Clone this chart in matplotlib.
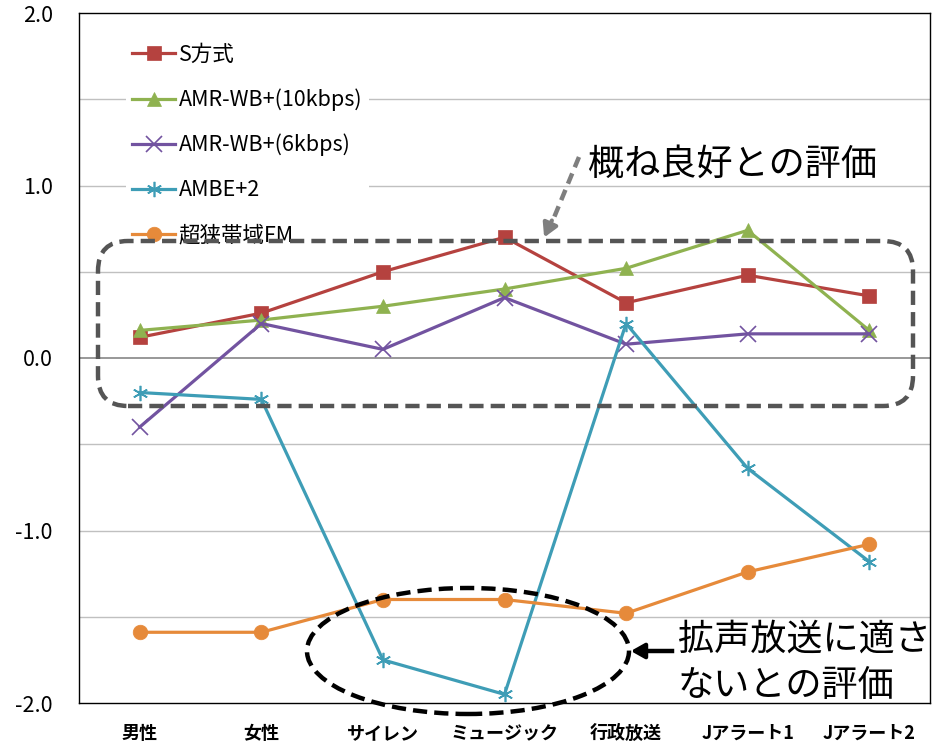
import matplotlib
matplotlib.use("Agg")
import matplotlib.pyplot as plt
from matplotlib.patches import FancyBboxPatch, Ellipse
from matplotlib.transforms import Affine2D

plt.rcParams['font.family'] = ['Noto Sans CJK JP', 'DejaVu Sans']

# データ
categories = ['男性', '女性', 'サイレン', 'ミュージック', '行政放送', 'Jアラート1', 'Jアラート2']
s_method = [0.12, 0.26, 0.50, 0.70, 0.32, 0.48, 0.36]
amr_10k = [0.16, 0.22, 0.30, 0.40, 0.52, 0.74, 0.16]
amr_6k = [-0.40, 0.20, 0.05, 0.35, 0.08, 0.14, 0.14]
ambe2 = [-0.20, -0.24, -1.75, -1.95, 0.20, -0.64, -1.18]
fm_narrow = [-1.59, -1.59, -1.40, -1.40, -1.48, -1.24, -1.08]

series = [
    ('S方式', s_method, '#B5423F', 's'),
    ('AMR-WB+(10kbps)', amr_10k, '#8FB250', '^'),
    ('AMR-WB+(6kbps)', amr_6k, '#7253A0', 'x'),
    ('AMBE+2', ambe2, '#3E9DB6', (6, 2, 0)),
    ('超狭帯域FM', fm_narrow, '#E68A3A', 'o'),
]

W, H = 942, 743
fig = plt.figure(figsize=(W / 100, H / 100), dpi=100)
ax = fig.add_axes([79 / W, 40 / H, 851 / W, 690 / H])

x = range(len(categories))
for name, vals, col, mk in series:
    filled = mk in ('s', 'o', '^')
    ax.plot(x, vals, color=col, lw=2.3, marker=mk, markersize=10.5 if filled else 11,
            markeredgewidth=0.5 if filled else 1.2,
            markeredgecolor=col, label=name, zorder=3)

ax.set_xlim(-0.5, len(categories) - 0.5)
ax.set_ylim(-2.0, 2.0)
ax.set_yticks([-2.0, -1.0, 0.0, 1.0, 2.0])
ax.set_yticklabels(['-2.0', '-1.0', '0.0', '1.0', '2.0'], fontsize=15.5)
ax.set_xticks(list(x))
ax.set_xticklabels(categories, fontsize=13, fontweight='bold')
ax.tick_params(length=0, pad=15)
ax.tick_params(axis='y', pad=19)
for yv in [-1.5, -1.0, -0.5, 0.5, 1.0, 1.5]:
    ax.axhline(yv, color='#C0C0C0', lw=1, zorder=1)
ax.axhline(0.0, color='#868686', lw=1.2, zorder=1)
for s in ax.spines.values():
    s.set_color('black')
    s.set_linewidth(1)

leg = ax.legend(loc='upper left', bbox_to_anchor=(0.055, 0.965), fontsize=15.5,
                frameon=True, facecolor='white', edgecolor='none', framealpha=1,
                labelspacing=1.06, handlelength=2.0, handletextpad=0.15,
                borderpad=0.3, borderaxespad=0)
leg.get_frame().set_linewidth(0)

# ピクセル座標（左下原点）
px = Affine2D().scale(1 / 100) + fig.dpi_scale_trans

box = FancyBboxPatch((98, H - 406), 815, 165,
                     boxstyle='round,pad=0,rounding_size=30',
                     transform=px, fill=False, edgecolor='#555555', lw=3.2,
                     linestyle=(0, (3.2, 1.6)), zorder=4)
fig.add_artist(box)

ell = Ellipse((468, H - 651), 322, 126, transform=px, fill=False,
              edgecolor='black', lw=3.2, linestyle=(0, (3.2, 1.6)), zorder=4)
fig.add_artist(ell)

# 注釈テキスト
fig.text(588, H - 165, '概ね良好との評価', transform=px, fontsize=26,
         va='center', ha='left')
fig.text(678, H - 640, '拡声放送に適さ', transform=px, fontsize=26,
         va='center', ha='left')
fig.text(678, H - 686, 'ないとの評価', transform=px, fontsize=26,
         va='center', ha='left')

# 矢印
fig.add_artist(plt.Line2D([579, 553], [H - 157, H - 220], transform=px,
                          color='#7F7F7F', lw=3.2, linestyle=(0, (2.5, 1.5))))
ax.annotate('', xy=(543, H - 240), xycoords=px, xytext=(553, H - 218), textcoords=px,
            arrowprops=dict(arrowstyle='-|>,head_length=0.8,head_width=0.45',
                            color='#7F7F7F', lw=3), annotation_clip=False)
fig.add_artist(plt.Line2D([648, 672], [H - 651, H - 651], transform=px,
                          color='black', lw=3.2))
ax.annotate('', xy=(628, H - 651), xycoords=px, xytext=(646, H - 651), textcoords=px,
            arrowprops=dict(arrowstyle='-|>,head_length=0.8,head_width=0.45',
                            color='black', lw=3), annotation_clip=False)

fig.savefig('out.png', dpi=100)
